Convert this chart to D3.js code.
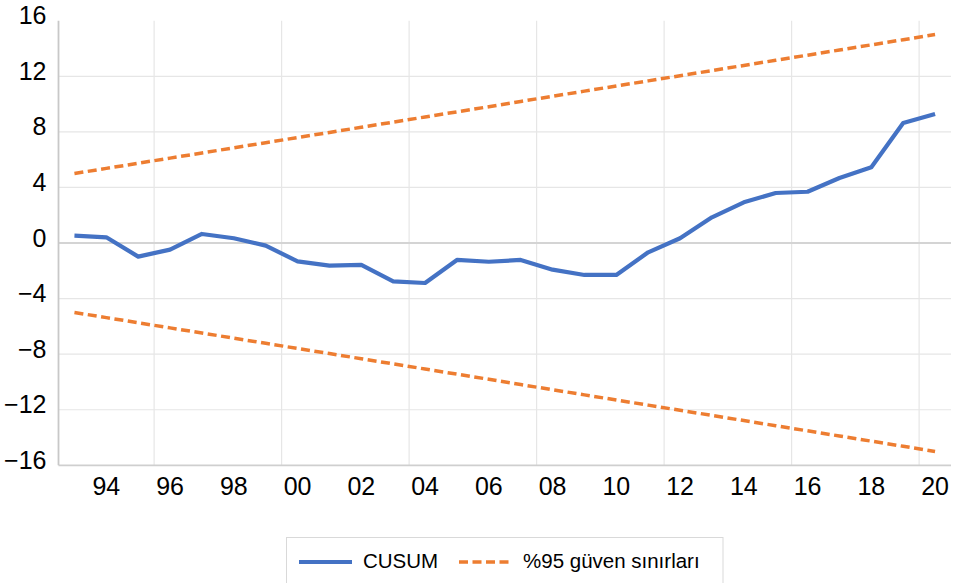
<!DOCTYPE html>
<html>
<head>
<meta charset="utf-8">
<script src="https://cdn.jsdelivr.net/npm/d3@7"></script>
<style>
  html, body { margin: 0; padding: 0; background: #fff; }
  svg { display: block; }
  text { font-family: "Liberation Sans", Arial, sans-serif; fill: #000; }
</style>
</head>
<body>
<svg id="chart" width="954" height="583"></svg>
<script>
const years = [1993,1994,1995,1996,1997,1998,1999,2000,2001,2002,2003,2004,2005,2006,
               2007,2008,2009,2010,2011,2012,2013,2014,2015,2016,2017,2018,2019,2020];
const cusum = [0.53,0.41,-0.98,-0.48,0.65,0.34,-0.19,-1.32,-1.63,-1.58,-2.76,-2.88,-1.22,-1.35,
               -1.22,-1.92,-2.30,-2.30,-0.67,0.34,1.85,2.93,3.60,3.69,4.68,5.45,8.64,9.29];
const upper = [5.00,5.37,5.74,6.11,6.48,6.85,7.22,7.59,7.96,8.33,8.70,9.07,9.44,9.81,
               10.19,10.56,10.93,11.30,11.67,12.04,12.41,12.78,13.15,13.52,13.89,14.26,14.63,15.00];
const lower = [-5.00,-5.37,-5.74,-6.11,-6.48,-6.85,-7.22,-7.59,-7.96,-8.33,-8.70,-9.07,-9.44,-9.81,
               -10.19,-10.56,-10.93,-11.30,-11.67,-12.04,-12.41,-12.78,-13.15,-13.52,-13.89,-14.26,-14.63,-15.00];
const yTicks = [-16,-12,-8,-4,0,4,8,12,16];
const xTickYears = [1994,1996,1998,2000,2002,2004,2006,2008,2010,2012,2014,2016,2018,2020];
const xGridYears = [1996,2000,2004,2008,2012,2016,2020];
const seriesNames = ["CUSUM", "%95 güven sınırları"];

const svg = d3.select("#chart");
svg.append("rect").attr("width", 954).attr("height", 583).attr("fill", "#fff");

const pLeft = 58.5, pRight = 951, pTop = 20.7, pBottom = 465.3;
const x = d3.scaleBand().domain(years).range([pLeft, pRight]).padding(0);
const xc = d => x(d) + x.bandwidth() / 2;
const y = d3.scaleLinear().domain([-16, 16]).range([pBottom, pTop]);

// horizontal gridlines
svg.append("g").selectAll("line").data(yTicks.filter(v => v !== 16 && v !== 0 && v !== -16)).join("line")
  .attr("x1", pLeft).attr("x2", pRight)
  .attr("y1", d => y(d)).attr("y2", d => y(d))
  .attr("stroke", "#e6e6e6").attr("stroke-width", 1.2);

// vertical gridlines
svg.append("g").selectAll("line").data(xGridYears).join("line")
  .attr("x1", d => x(d)).attr("x2", d => x(d))
  .attr("y1", pTop).attr("y2", pBottom)
  .attr("stroke", "#e6e6e6").attr("stroke-width", 1.2);

// zero line and bottom line
svg.append("line").attr("x1", pLeft).attr("x2", pRight).attr("y1", y(0)).attr("y2", y(0))
  .attr("stroke", "#d4d4d4").attr("stroke-width", 2);
svg.append("line").attr("x1", pLeft).attr("x2", pRight).attr("y1", y(-16)).attr("y2", y(-16))
  .attr("stroke", "#cfcfcf").attr("stroke-width", 1.8);
// left axis line
svg.append("line").attr("x1", pLeft).attr("x2", pLeft).attr("y1", pTop).attr("y2", pBottom)
  .attr("stroke", "#c8c8c8").attr("stroke-width", 1.8);

// y axis labels
const yAxis = d3.axisLeft(y).tickValues(yTicks).tickSize(0).tickPadding(12).tickFormat(d3.format("d"));
const gy = svg.append("g").attr("transform", `translate(${pLeft},-5)`).call(yAxis);
gy.select(".domain").remove();
gy.selectAll("text").attr("font-size", 25).attr("font-family", '"Liberation Sans", Arial, sans-serif').attr("fill", "#000");

// x axis labels
const xAxis = d3.axisBottom(x).tickValues(xTickYears).tickSize(0).tickPadding(12)
  .tickFormat(d => String(d).slice(2));
const gx = svg.append("g").attr("transform", `translate(0,${pBottom})`).call(xAxis);
gx.select(".domain").remove();
gx.selectAll("text").attr("font-size", 25).attr("font-family", '"Liberation Sans", Arial, sans-serif').attr("fill", "#000");

const line = d3.line().x((d, i) => xc(years[i])).y(d => y(d));

svg.append("path").datum(upper).attr("d", line).attr("fill", "none")
  .attr("stroke", "#ED7D31").attr("stroke-width", 3.5).attr("stroke-dasharray", "9,4.5");
svg.append("path").datum(lower).attr("d", line).attr("fill", "none")
  .attr("stroke", "#ED7D31").attr("stroke-width", 3.5).attr("stroke-dasharray", "9,4.5");
svg.append("path").datum(cusum).attr("d", line).attr("fill", "none")
  .attr("stroke", "#4472C4").attr("stroke-width", 4.2).attr("stroke-linejoin", "round");

// legend
const lg = svg.append("g");
lg.append("rect").attr("x", 286.5).attr("y", 537.5).attr("width", 436.5).attr("height", 60)
  .attr("fill", "#fff").attr("stroke", "#d9d9d9").attr("stroke-width", 1);
lg.append("line").attr("x1", 299).attr("x2", 352).attr("y1", 562).attr("y2", 562)
  .attr("stroke", "#4472C4").attr("stroke-width", 4.2);
lg.append("text").attr("x", 363).attr("y", 568).attr("font-size", 20.5).text(seriesNames[0]);
lg.append("line").attr("x1", 459).attr("x2", 510).attr("y1", 562).attr("y2", 562)
  .attr("stroke", "#ED7D31").attr("stroke-width", 3.5).attr("stroke-dasharray", "9,4.5");
lg.append("text").attr("x", 523).attr("y", 568).attr("font-size", 20.5).text(seriesNames[1]);
</script>
</body>
</html>
